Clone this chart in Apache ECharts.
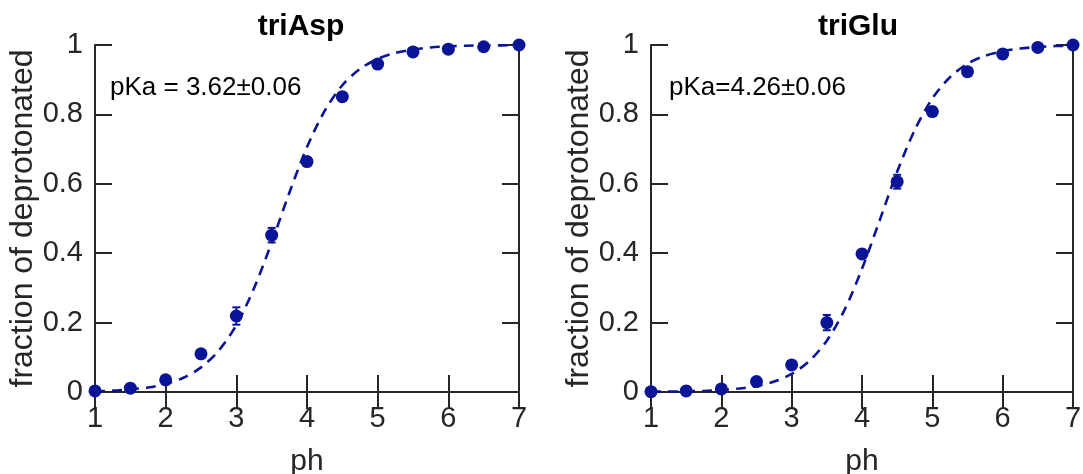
<!DOCTYPE html>
<html>
<head>
<meta charset="utf-8">
<script src="https://cdn.jsdelivr.net/npm/echarts@6/dist/echarts.min.js"></script>
<style>
  html, body { margin: 0; padding: 0; background: #fff; }
  #chart { width: 1083px; height: 474px; }
</style>
</head>
<body>
<div id="chart"></div>
<script>
// Titration data: measured fraction deprotonated vs pH, with fitted curves
const phValues = [1, 1.5, 2, 2.5, 3, 3.5, 4, 4.5, 5, 5.5, 6, 6.5, 7];

const aspFraction = [0.003, 0.011, 0.035, 0.110, 0.219, 0.452, 0.664, 0.851, 0.945, 0.980, 0.988, 0.995, 1.0];
const aspError    = [0.003, 0.004, 0.005, 0.005, 0.025, 0.021, 0.006, 0.010, 0.005, 0.004, 0.006, 0.003, 0.002];

const gluFraction = [0.001, 0.003, 0.009, 0.030, 0.078, 0.200, 0.398, 0.606, 0.808, 0.923, 0.974, 0.993, 1.0];
const gluError    = [0.002, 0.002, 0.004, 0.004, 0.006, 0.022, 0.006, 0.020, 0.012, 0.006, 0.012, 0.004, 0.002];

// Fitted curves sampled every 0.25 pH unit
const fitPh = [1, 1.25, 1.5, 1.75, 2, 2.25, 2.5, 2.75, 3, 3.25, 3.5, 3.75, 4,
               4.25, 4.5, 4.75, 5, 5.25, 5.5, 5.75, 6, 6.25, 6.5, 6.75, 7];
const aspFit = [0.002, 0.004, 0.008, 0.013, 0.023, 0.041, 0.071, 0.119, 0.193, 0.299, 0.431, 0.574, 0.706,
                0.810, 0.884, 0.931, 0.960, 0.977, 0.987, 0.993, 0.996, 0.998, 0.999, 0.999, 1.0];
const gluFit = [0.001, 0.001, 0.002, 0.003, 0.006, 0.010, 0.017, 0.030, 0.052, 0.089, 0.148, 0.236, 0.355,
                0.494, 0.635, 0.755, 0.846, 0.907, 0.946, 0.969, 0.982, 0.990, 0.994, 0.997, 0.998];

const panelTitles = ['triAsp', 'triGlu'];
const pkaLabels = ['pKa = 3.62\u00b10.06', 'pKa=4.26\u00b10.06'];
const xTicks = [1, 2, 3, 4, 5, 6, 7];
const yTicks = [0, 0.2, 0.4, 0.6, 0.8, 1];

const FONT = '"Liberation Sans", Arial, Helvetica, sans-serif';
const INK = '#262626';
const BLUE = '#0a1496';

const grids = [
  { left: 95, right: 564, top: 45, bottom: 82, outerBoundsMode: 'none', containLabel: false },
  { left: 651, right: 10, top: 45, bottom: 82, outerBoundsMode: 'none', containLabel: false }
];

function makeAxes(i) {
  const common = {
    gridIndex: i,
    type: 'value',
    axisLine: { show: true, lineStyle: { color: INK, width: 2 } },
    axisTick: { show: true, inside: true, length: 17, lineStyle: { color: INK, width: 2 } },
    splitLine: { show: false }
  };
  const x = [
    Object.assign({}, common, {
      position: 'bottom', min: xTicks[0], max: xTicks[xTicks.length - 1], interval: 1,
      name: 'ph', nameLocation: 'middle', nameGap: 55,
      nameTextStyle: { fontFamily: FONT, fontSize: 30, color: INK },
      axisLabel: { fontFamily: FONT, fontSize: 29, color: INK, margin: 12 }
    }),
    Object.assign({}, common, {
      position: 'top', min: xTicks[0], max: xTicks[xTicks.length - 1], interval: 1,
      axisLabel: { show: false }
    })
  ];
  const y = [
    Object.assign({}, common, {
      position: 'left', min: yTicks[0], max: yTicks[yTicks.length - 1], interval: 0.2,
      name: 'fraction of deprotonated', nameLocation: 'middle', nameGap: 51,
      nameTextStyle: { fontFamily: FONT, fontSize: 32, color: INK },
      axisLabel: { fontFamily: FONT, fontSize: 29, color: INK, margin: 12 }
    }),
    Object.assign({}, common, {
      position: 'right', min: yTicks[0], max: yTicks[yTicks.length - 1], interval: 0.2,
      axisLabel: { show: false }
    })
  ];
  return { x, y };
}

const xAxes = [], yAxes = [];
[0, 1].forEach(i => {
  const a = makeAxes(i);
  xAxes.push(...a.x);
  yAxes.push(...a.y);
});

function errorBarSeries(idx, values, errors) {
  return {
    type: 'custom',
    xAxisIndex: idx * 2,
    yAxisIndex: idx * 2,
    z: 3,
    silent: true,
    data: phValues.map((p, k) => [p, values[k] - errors[k], values[k] + errors[k]]),
    renderItem: function (params, api) {
      const lo = api.coord([api.value(0), api.value(1)]);
      const hi = api.coord([api.value(0), api.value(2)]);
      const cap = 4;
      const style = { stroke: BLUE, lineWidth: 2 };
      return {
        type: 'group',
        children: [
          { type: 'line', shape: { x1: lo[0], y1: lo[1], x2: hi[0], y2: hi[1] }, style },
          { type: 'line', shape: { x1: lo[0] - cap, y1: lo[1], x2: lo[0] + cap, y2: lo[1] }, style },
          { type: 'line', shape: { x1: hi[0] - cap, y1: hi[1], x2: hi[0] + cap, y2: hi[1] }, style }
        ]
      };
    }
  };
}

function panelSeries(idx, values, errors, fit) {
  return [
    {
      type: 'line',
      xAxisIndex: idx * 2, yAxisIndex: idx * 2,
      data: fitPh.map((p, k) => [p, fit[k]]),
      smooth: 0.3,
      symbol: 'none',
      z: 2,
      lineStyle: { color: BLUE, width: 2.6, type: [10, 7] },
      silent: true
    },
    errorBarSeries(idx, values, errors),
    {
      type: 'scatter',
      xAxisIndex: idx * 2, yAxisIndex: idx * 2,
      data: phValues.map((p, k) => [p, values[k]]),
      symbol: 'circle',
      symbolSize: 13,
      z: 4,
      itemStyle: { color: BLUE, opacity: 1 },
      silent: true
    }
  ];
}

const chart = echarts.init(document.getElementById('chart'), null, { renderer: 'canvas' });
chart.setOption({
  animation: false,
  backgroundColor: '#ffffff',
  title: panelTitles.map((t, i) => ({
    text: t,
    left: i === 0 ? 296 : 853,
    top: 7,
    textAlign: 'center',
    textStyle: { fontFamily: FONT, fontSize: 30, fontWeight: 'bold', color: '#000' }
  })),
  grid: grids,
  xAxis: xAxes,
  yAxis: yAxes,
  graphic: pkaLabels.map((t, i) => ({
    type: 'text',
    left: i === 0 ? 110 : 669,
    top: 75,
    style: { text: t, fontFamily: FONT, fontSize: 26, fill: '#000' }
  })),
  series: [
    ...panelSeries(0, aspFraction, aspError, aspFit),
    ...panelSeries(1, gluFraction, gluError, gluFit)
  ]
});
</script>
</body>
</html>
